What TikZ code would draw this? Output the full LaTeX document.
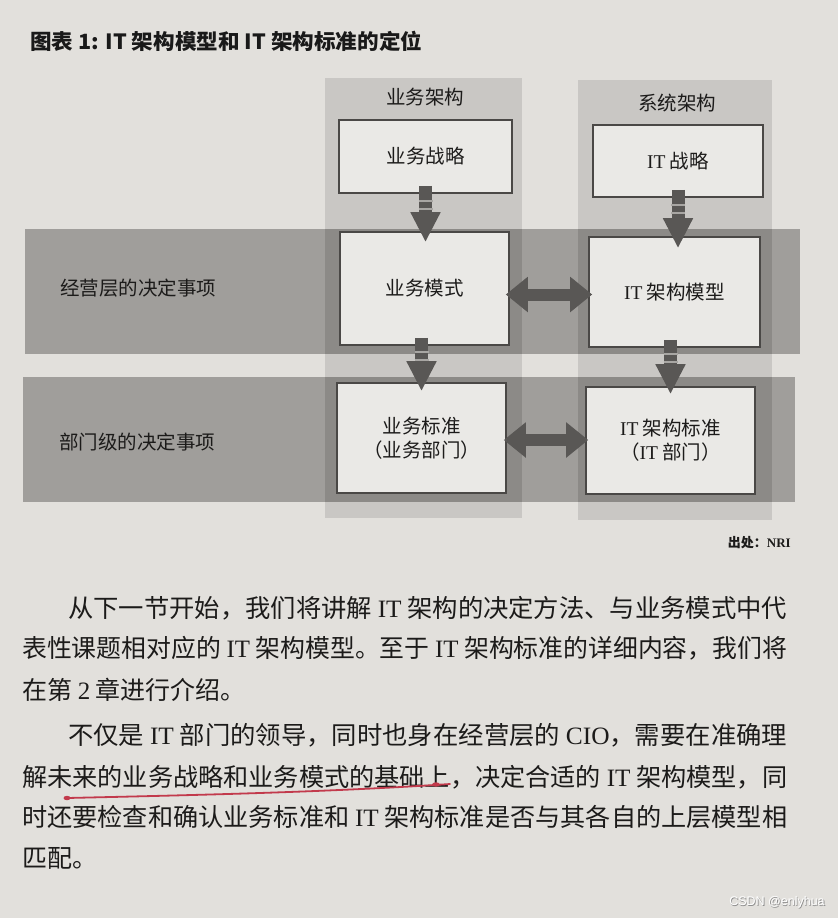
\documentclass[tikz,border=0pt]{standalone}
\usepackage{fontspec}
\usepackage{graphicx}
\setmainfont{Noto Sans CJK SC}
\newfontfamily\lat{Liberation Serif}
\newfontfamily\wmfont{Liberation Sans}
\usetikzlibrary{arrows.meta,calc}
\definecolor{paper}{HTML}{E2E0DC}
\definecolor{colL}{HTML}{C9C7C4}
\definecolor{bandc}{HTML}{A09E9B}
\definecolor{ovc}{HTML}{8C8A87}
\definecolor{boxfill}{HTML}{EAE9E6}
\definecolor{boxline}{HTML}{4A4846}
\definecolor{arrc}{HTML}{595755}
\definecolor{gapc}{HTML}{A8A6A3}
\definecolor{inkc}{HTML}{1C1B1A}
\definecolor{redpen}{HTML}{C23A4C}
\newcommand\fitw[2]{\resizebox{#1}{\height}{#2}}
\tikzset{
  cbox/.style={draw=boxline, line width=1.6pt, fill=boxfill, inner sep=0pt,
    align=center, text=inkc, font=\fontsize{19.5}{24}\selectfont},
  lbl/.style={inner sep=0pt, text=inkc, font=\fontsize{19.5}{24}\selectfont},
  txt/.style={inner sep=0pt, anchor=west, text=inkc, font=\fontsize{25}{25}\selectfont},
  darr/.style={draw=arrc, line width=13pt, -{Triangle[width=28pt,length=30pt]}},
  harr/.style={draw=arrc, line width=12pt, {Triangle[width=34pt,length=22pt]}-{Triangle[width=34pt,length=22pt]}},
  gapline/.style={draw=gapc, line width=1.6pt},
  redline/.style={draw=redpen, line width=1.8pt, line cap=round}
}
\begin{document}
\begin{tikzpicture}[x=1pt,y=-1pt]
\useasboundingbox (0,0) rectangle (838,918);
\fill[paper] (0,0) rectangle (838,918);
% columns
\fill[colL] (325,78) rectangle (522,518);
\fill[colL] (578,80) rectangle (772,520);
% bands
\fill[bandc] (25,229) rectangle (800,354);
\fill[bandc] (23,377) rectangle (795,502);
% overlaps
\fill[ovc] (325,229) rectangle (522,354);
\fill[ovc] (578,229) rectangle (772,354);
\fill[ovc] (325,377) rectangle (522,502);
\fill[ovc] (578,377) rectangle (772,502);

% title
\node[inner sep=0pt, anchor=west, text=black!90] (title) at (30,41)
  {\fitw{392pt}{\bfseries\fontsize{21}{21}\selectfont 图表 1: IT 架构模型和 IT 架构标准的定位}};

% column headings
\node[lbl] (hbiz) at (425,97) {业务架构};
\node[lbl] (hsys) at (677,103) {系统架构};
% row labels
\node[lbl, anchor=west] (row1) at (60,288) {经营层的决定事项};
\node[lbl, anchor=west] (row2) at (59,442) {部门级的决定事项};

% boxes
\node[cbox, minimum width=173pt, minimum height=73pt] (bs) at (425.5,156.5) {业务战略};
\node[cbox, minimum width=170pt, minimum height=72pt] (its) at (678,161) {{\lat IT} 战略};
\node[cbox, minimum width=169pt, minimum height=113pt] (bm) at (424.5,288.5) {业务模式};
\node[cbox, minimum width=171pt, minimum height=110pt] (itm) at (674.5,292) {{\lat IT} 架构模型};
\node[cbox, minimum width=169pt, minimum height=110pt] (bst) at (421.5,438) {业务标准\\（业务部门）};
\node[cbox, minimum width=169pt, minimum height=107pt] (itst) at (670.5,440.5) {{\lat IT} 架构标准\\（{\lat IT} 部门）};

% down arrows
\draw[darr] ([yshift=8pt]bs.south) -- ($(bm.north -| bs.south)+(0,11)$);
\draw[gapline] ([shift={(-7,7)}]bs.south) -- ++(14,0);
\draw[gapline] ([shift={(-7,15)}]bs.south) -- ++(14,0);
\draw[darr] ([yshift=8pt]its.south) -- ($(itm.north -| its.south)+(0,12)$);
\draw[gapline] ([shift={(-7,7)}]its.south) -- ++(14,0);
\draw[gapline] ([shift={(-7,15)}]its.south) -- ++(14,0);
\draw[darr] ($(bm.south -| bst.north)+(0,-8)$) -- ([yshift=-9pt]bst.north);
\draw[gapline] ($(bm.south -| bst.north)+(-7,6)$) -- ++(14,0);
\draw[gapline] ($(bm.south -| bst.north)+(-7,14)$) -- ++(14,0);
\draw[darr] ($(itm.south -| itst.north)+(0,-8)$) -- ([yshift=-8pt]itst.north);
\draw[gapline] ($(itm.south -| itst.north)+(-7,6)$) -- ++(14,0);
\draw[gapline] ($(itm.south -| itst.north)+(-7,14)$) -- ++(14,0);

% double arrows
\draw[harr] ([shift={(-4,6)}]bm.east) -- ([shift={(4,2.5)}]itm.west);
\draw[harr] ([shift={(-3,2)}]bst.east) -- ([shift={(3,-0.5)}]itst.west);

% source
\node[inner sep=0pt, anchor=east, text=inkc] (src) at (791,543)
  {\bfseries\fontsize{13}{13}\selectfont 出处：{\lat\bfseries NRI}};

% paragraph
\node[txt] (l1) at (68,608) {\fitw{719pt}{从下一节开始，我们将讲解 {\lat IT} 架构的决定方法、与业务模式中代}};
\node[txt] (l2) at (22,648) {\fitw{765pt}{表性课题相对应的 {\lat IT} 架构模型。至于 {\lat IT} 架构标准的详细内容，我们将}};
\node[txt] (l3) at (22,690) {在第 {\lat 2} 章进行介绍。};
\node[txt] (l4) at (68,735) {\fitw{719pt}{不仅是 {\lat IT} 部门的领导，同时也身在经营层的 {\lat CIO}，需要在准确理}};
\node[txt] (l5) at (22,777) {\fitw{765pt}{解未来的业务战略和业务模式的基础上，决定合适的 {\lat IT} 架构模型，同}};
\node[txt] (l6) at (22,817) {\fitw{765pt}{时还要检查和确认业务标准和 {\lat IT} 架构标准是否与其各自的上层模型相}};
\node[txt] (l7) at (22,858) {匹配。};

% red pen underline
\coordinate (u1) at (67,798);
\coordinate (u2) at (450,784);
\draw[redline] (u1) .. controls (200,795) and (330,792) .. (u2);
\fill[redpen] (u1) ellipse (3.5pt and 2.2pt);
\fill[redpen] ($(u2)+(-14,0.5)$) ellipse (4pt and 2.2pt);

% watermark
\node[inner sep=0pt, text=black!45] (wms) at (777.8,902.8)
  {\wmfont\fontsize{12.5}{12.5}\selectfont CSDN @enlyhua};
\node[inner sep=0pt, text=white] (wm) at (777,902)
  {\wmfont\fontsize{12.5}{12.5}\selectfont CSDN @enlyhua};
\end{tikzpicture}
\end{document}
